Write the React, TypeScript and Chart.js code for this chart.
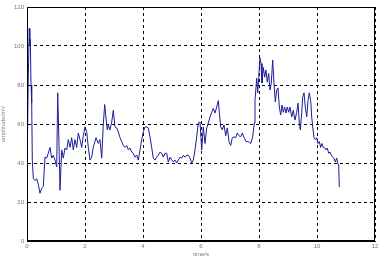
import React, { useEffect, useRef } from "react";
import { Chart, registerables } from "chart.js";

Chart.register(...registerables);

const times = [
  0, 0.045, 0.079, 0.097, 0.114, 0.138, 0.162, 0.183, 0.217, 0.276, 0.334, 0.39, 0.448, 0.507, 0.562, 0.621,
  0.679, 0.734, 0.793, 0.852, 0.907, 0.966, 1.024, 1.059, 1.103, 1.138, 1.197, 1.252, 1.31, 1.369, 1.424, 1.483,
  1.541, 1.597, 1.655, 1.714, 1.769, 1.828, 1.886, 1.941, 2.0, 2.059, 2.114, 2.172, 2.231, 2.286, 2.379, 2.459,
  2.517, 2.576, 2.631, 2.679, 2.724, 2.769, 2.803, 2.862, 2.921, 2.976, 3.034, 3.093, 3.148, 3.207, 3.266, 3.321,
  3.379, 3.438, 3.493, 3.552, 3.61, 3.666, 3.724, 3.783, 3.838, 3.897, 3.955, 4.01, 4.069, 4.128, 4.183, 4.241,
  4.3, 4.355, 4.414, 4.472, 4.528, 4.586, 4.645, 4.7, 4.759, 4.817, 4.872, 4.931, 4.99, 5.045, 5.103, 5.162,
  5.217, 5.276, 5.334, 5.39, 5.448, 5.507, 5.562, 5.621, 5.679, 5.734, 5.793, 5.852, 5.907, 5.966, 6.024, 6.079,
  6.138, 6.197, 6.252, 6.31, 6.369, 6.424, 6.483, 6.541, 6.597, 6.631, 6.679, 6.734, 6.793, 6.852, 6.907, 6.966,
  7.024, 7.079, 7.138, 7.197, 7.252, 7.31, 7.369, 7.424, 7.483, 7.552, 7.631, 7.714, 7.783, 7.838, 7.862, 7.921,
  7.955, 7.99, 8.034, 8.069, 8.103, 8.148, 8.197, 8.241, 8.286, 8.334, 8.379, 8.424, 8.472, 8.517, 8.562, 8.61,
  8.655, 8.7, 8.748, 8.793, 8.838, 8.886, 8.931, 8.976, 9.024, 9.069, 9.128, 9.183, 9.241, 9.3, 9.345, 9.39,
  9.424, 9.472, 9.507, 9.552, 9.597, 9.645, 9.69, 9.734, 9.783, 9.817, 9.852, 9.897, 9.941, 9.99, 10.034, 10.079,
  10.128, 10.172, 10.217, 10.266, 10.31, 10.355, 10.403, 10.448, 10.493, 10.541, 10.586, 10.631, 10.679, 10.714, 10.748, 10.769,
];

const amplitudes = [
  35, 85, 109, 100, 103.5, 80, 71, 41.5, 32, 31, 32, 29, 24.5, 27, 28, 43,
  42.5, 45, 48, 42.5, 44, 41.5, 38, 76, 50, 26, 46.7, 42.5, 47.7, 46.7, 52, 48,
  53, 46.7, 52, 48, 55.4, 52, 48, 54, 58.5, 56, 48, 41.5, 43, 48, 53, 50,
  52, 42.5, 60, 70, 63, 57, 59.5, 57, 61, 67, 58.5, 58, 56, 53, 51, 49,
  48, 49, 46.7, 47.7, 45.6, 45, 43, 44, 41.5, 46.7, 52, 56, 58.5, 58.5, 58, 53.4,
  48, 42.5, 41.5, 43, 44, 45.6, 45, 43, 45, 45, 40.5, 43, 41.5, 40.5, 41.5, 40,
  41.5, 43, 42.5, 44, 43, 44, 44, 42.5, 40, 41.5, 46.7, 53.4, 60.5, 61, 46.7, 58.5,
  50, 58, 60.5, 63.6, 66, 68, 65.6, 68.7, 72, 66, 58.5, 57, 59.5, 54, 58, 51,
  49, 53, 53.4, 53, 55.4, 54, 53.4, 55.4, 53, 51, 51, 50, 53.4, 60.5, 72, 83.5,
  76, 84, 94, 91, 81, 89, 84, 87.7, 81.5, 86, 77.4, 81, 92.8, 81, 71.3, 77.4,
  78.5, 68.7, 64.6, 69.7, 66, 68.7, 65.6, 68.7, 66, 68.7, 63.6, 67, 62, 66, 70.7, 60.5,
  57, 65.6, 73.8, 76, 68.7, 63.6, 72, 76, 72, 63.6, 58.5, 53, 52, 53, 50, 51,
  48, 50, 48, 47.7, 46.7, 47.7, 45, 45.6, 44, 43, 42.5, 40.5, 42.5, 40, 39, 27.7,
];

const xTicks = [0, 2, 4, 6, 8, 10, 12];
const yTicks = [0, 20, 40, 60, 80, 100, 120];
const xTitle = "time/s";
const yTitle = "amplitude/mV";

const frame = {
  id: "frame",
  afterDraw(chart: any) {
    const { ctx, chartArea } = chart;
    ctx.save();
    ctx.strokeStyle = "#000";
    ctx.lineWidth = 1;
    ctx.setLineDash([]);
    ctx.strokeRect(
      Math.round(chartArea.left) + 0.5,
      Math.round(chartArea.top) + 0.5,
      Math.round(chartArea.right - chartArea.left) - 1,
      Math.round(chartArea.bottom - chartArea.top) - 1
    );
    ctx.restore();
  },
};

export default function App() {
  const ref = useRef<HTMLCanvasElement | null>(null);
  useEffect(() => {
    document.body.style.margin = "0";
    const canvas = ref.current!;
    const chart = new Chart(canvas, {
      type: "line",
      data: {
        datasets: [
          {
            data: times.map((t, i) => ({ x: t, y: amplitudes[i] })),
            borderColor: "#1c1c96",
            borderWidth: 1,
            pointRadius: 0,
            tension: 0,
            fill: false,
          },
        ],
      },
      options: {
        responsive: false,
        animation: false,
        layout: { padding: { left: 0, right: 7, top: 7, bottom: 0 } },
        plugins: { legend: { display: false }, tooltip: { enabled: false } },
        scales: {
          x: {
            type: "linear",
            min: 0,
            max: 12,
            afterBuildTicks(scale: any) {
              scale.ticks = xTicks.map((v) => ({ value: v }));
            },
            afterFit(scale: any) {
              scale.height = 17;
            },
            grid: {
              color: "#000",
              lineWidth: 1,
              drawTicks: false,
              tickBorderDash: [],
            },
            border: { display: true, color: "#000", dash: [3, 3] },
            ticks: {
              color: "#777",
              font: { size: 6, family: "Arial, Liberation Sans" },
              padding: 2,
              maxRotation: 0,
              callback: (v: any) => String(v),
            },
            title: {
              display: true,
              text: xTitle,
              color: "#777",
              font: { size: 6, family: "Arial, Liberation Sans" },
              padding: { top: 0, bottom: 0 },
            },
          },
          y: {
            type: "linear",
            min: 0,
            max: 120,
            afterBuildTicks(scale: any) {
              scale.ticks = yTicks.map((v) => ({ value: v }));
            },
            afterFit(scale: any) {
              scale.width = 27;
            },
            grid: {
              color: "#000",
              lineWidth: 1,
              drawTicks: false,
            },
            border: { display: true, color: "#000", dash: [3, 3] },
            ticks: {
              color: "#777",
              font: { size: 6, family: "Arial, Liberation Sans" },
              padding: 3,
              callback: (v: any) => String(v),
            },
            title: {
              display: true,
              text: yTitle,
              color: "#888",
              font: { size: 6, family: "Arial, Liberation Sans" },
              padding: { top: 0, bottom: 0 },
            },
          },
        },
      } as any,
      plugins: [frame],
    });
    // dashed grid
    (chart.options.scales as any).x.grid.borderDash = [3, 3];
    return () => chart.destroy();
  }, []);
  return <canvas ref={ref} width={382} height={258} style={{ display: "block" }} />;
}
